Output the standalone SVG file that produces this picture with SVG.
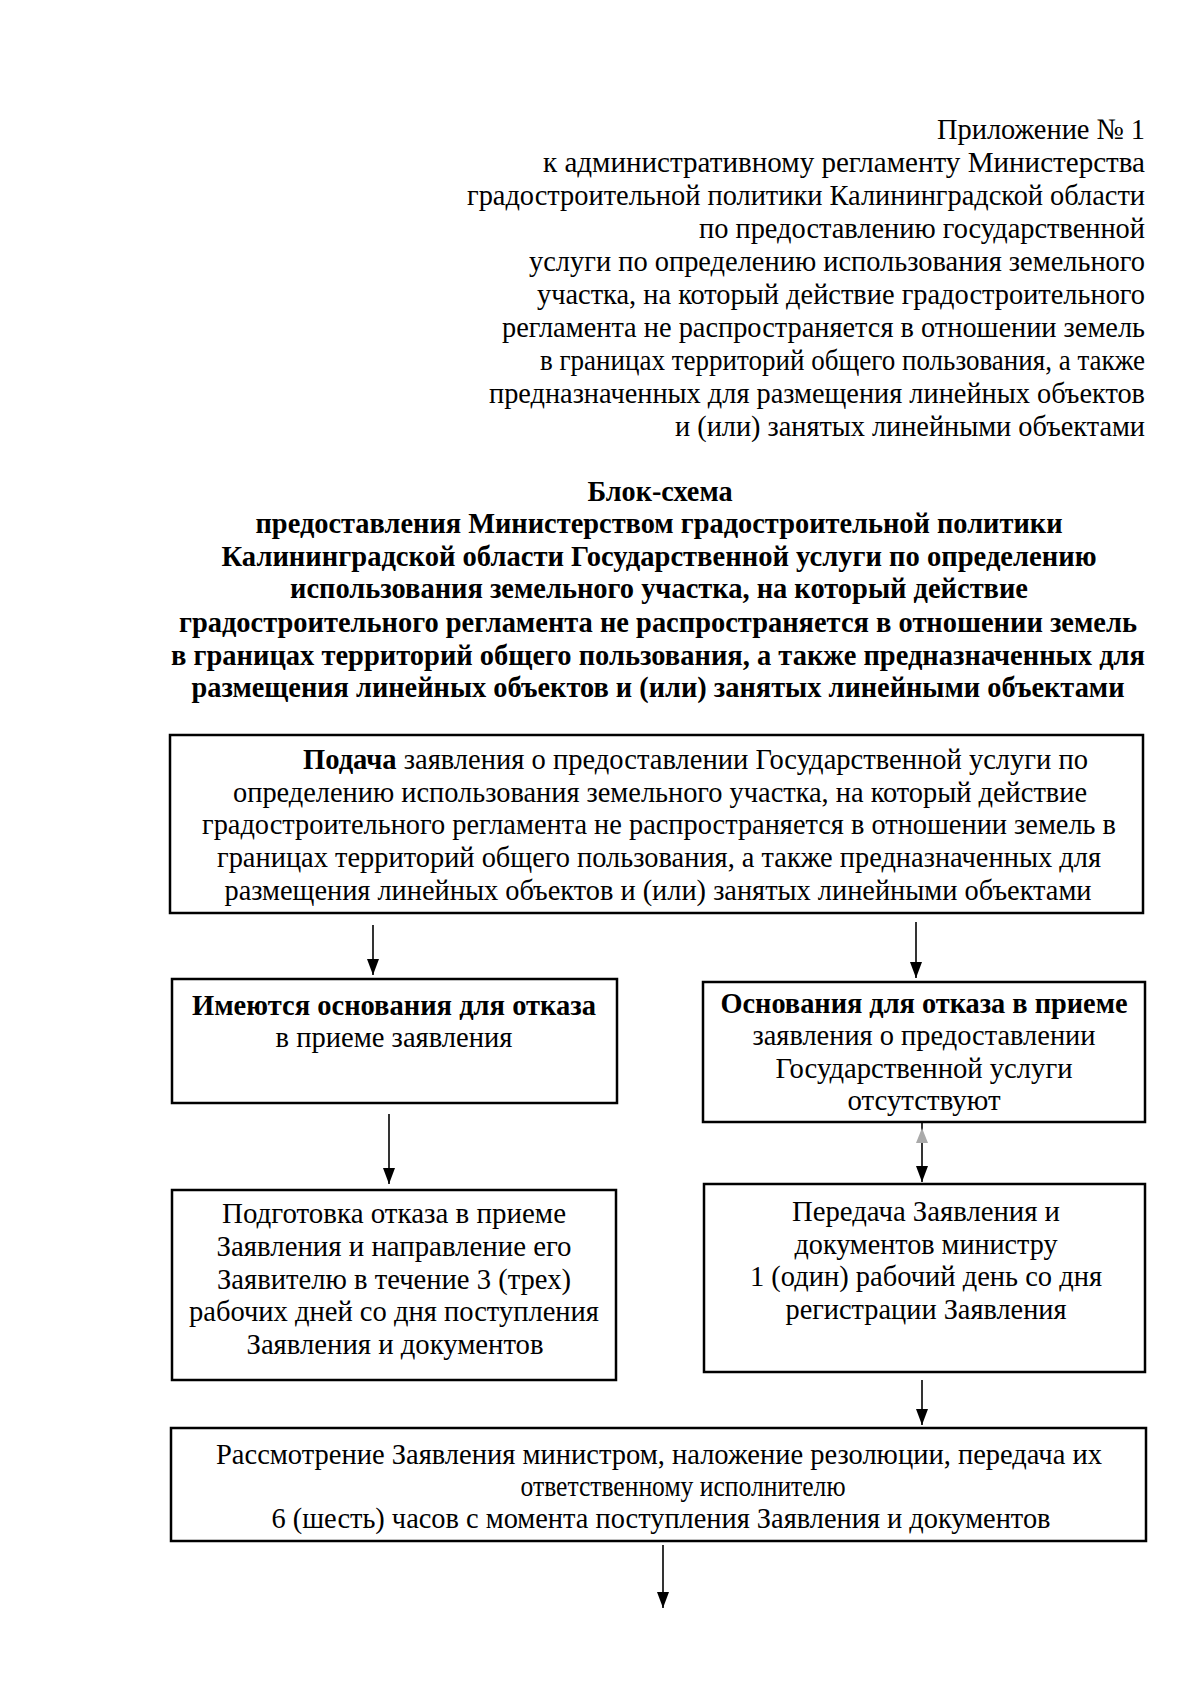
<svg xmlns="http://www.w3.org/2000/svg" width="1200" height="1697" viewBox="0 0 1200 1697">
<defs>
<style>
text{font-family:"Liberation Serif","Times New Roman",serif;font-size:30px;fill:#000}
.b{font-weight:bold}
.t{font-size:29px}
.r{text-anchor:end}
.m{text-anchor:middle}
.box{fill:#fff;stroke:#000;stroke-width:2.5}
.con{stroke:#000;stroke-width:1.6;fill:none}
</style>
<marker id="ah" viewBox="0 0 16 12" refX="16" refY="6" markerWidth="16" markerHeight="12" markerUnits="userSpaceOnUse" orient="auto">
<path d="M0,0 L16,6 L0,12 z" fill="#000"/>
</marker>
</defs>
<rect width="1200" height="1697" fill="#fff"/>
<g id="header">
<text class="r" x="1145" y="139" textLength="208" lengthAdjust="spacingAndGlyphs">Приложение № 1</text>
<text class="r" x="1145" y="172" textLength="602" lengthAdjust="spacingAndGlyphs">к административному регламенту Министерства</text>
<text class="r" x="1145" y="205" textLength="678" lengthAdjust="spacingAndGlyphs">градостроительной политики Калининградской области</text>
<text class="r" x="1145" y="238" textLength="446" lengthAdjust="spacingAndGlyphs">по предоставлению государственной</text>
<text class="r" x="1145" y="271" textLength="616" lengthAdjust="spacingAndGlyphs">услуги по определению использования земельного</text>
<text class="r" x="1145" y="304" textLength="608" lengthAdjust="spacingAndGlyphs">участка, на который действие градостроительного</text>
<text class="r" x="1145" y="337" textLength="643" lengthAdjust="spacingAndGlyphs">регламента не распространяется в отношении земель</text>
<text class="r" x="1145" y="370" textLength="605" lengthAdjust="spacingAndGlyphs">в границах территорий общего пользования, а также</text>
<text class="r" x="1145" y="403" textLength="656" lengthAdjust="spacingAndGlyphs">предназначенных для размещения линейных объектов</text>
<text class="r" x="1145" y="436" textLength="470" lengthAdjust="spacingAndGlyphs">и (или) занятых линейными объектами</text>
</g>
<g id="title">
<text class="m b t" x="660" y="501" textLength="145" lengthAdjust="spacingAndGlyphs">Блок-схема</text>
<text class="m b t" x="659" y="533" textLength="807" lengthAdjust="spacingAndGlyphs">предоставления Министерством градостроительной политики</text>
<text class="m b t" x="659" y="566" textLength="875" lengthAdjust="spacingAndGlyphs">Калининградской области Государственной услуги по определению</text>
<text class="m b t" x="659" y="598" textLength="738" lengthAdjust="spacingAndGlyphs">использования земельного участка, на который действие</text>
<text class="m b t" x="658" y="632" textLength="958" lengthAdjust="spacingAndGlyphs">градостроительного регламента не распространяется в отношении земель</text>
<text class="m b t" x="658" y="665" textLength="974" lengthAdjust="spacingAndGlyphs">в границах территорий общего пользования, а также предназначенных для</text>
<text class="m b t" x="658" y="697" textLength="933" lengthAdjust="spacingAndGlyphs">размещения линейных объектов и (или) занятых линейными объектами</text>
</g>
<g id="connectors">
<line class="con" x1="373" y1="925" x2="373" y2="975" marker-end="url(#ah)"/>
<line class="con" x1="916" y1="922" x2="916" y2="978" marker-end="url(#ah)"/>
<line class="con" x1="389" y1="1114" x2="389" y2="1184" marker-end="url(#ah)"/>
<line class="con" x1="922" y1="1123" x2="922" y2="1182" marker-end="url(#ah)"/>
<polygon points="922,1128 916,1143 928,1143" fill="#aaa"/>
<line class="con" x1="922" y1="1380" x2="922" y2="1425" marker-end="url(#ah)"/>
<line class="con" x1="663" y1="1545" x2="663" y2="1608" marker-end="url(#ah)"/>
</g>
<g id="n1">
<rect class="box" x="170" y="735" width="973" height="178"/>
<text x="303" y="769" textLength="785" lengthAdjust="spacingAndGlyphs"><tspan class="b">Подача</tspan> заявления о предоставлении Государственной услуги по</text>
<text class="m" x="660" y="802" textLength="854" lengthAdjust="spacingAndGlyphs">определению использования земельного участка, на который действие</text>
<text class="m" x="659" y="834" textLength="914" lengthAdjust="spacingAndGlyphs">градостроительного регламента не распространяется в отношении земель в</text>
<text class="m" x="659" y="867" textLength="884" lengthAdjust="spacingAndGlyphs">границах территорий общего пользования, а также предназначенных для</text>
<text class="m" x="658" y="900" textLength="867" lengthAdjust="spacingAndGlyphs">размещения линейных объектов и (или) занятых линейными объектами</text>
</g>
<g id="n2">
<rect class="box" x="172" y="979" width="445" height="124"/>
<text class="m b" x="394" y="1015" textLength="404" lengthAdjust="spacingAndGlyphs">Имеются основания для отказа</text>
<text class="m" x="394" y="1047" textLength="237" lengthAdjust="spacingAndGlyphs">в приеме заявления</text>
</g>
<g id="n3">
<rect class="box" x="703" y="982" width="442" height="140"/>
<text class="m b" x="924" y="1013" textLength="407" lengthAdjust="spacingAndGlyphs">Основания для отказа в приеме</text>
<text class="m" x="924" y="1045" textLength="343" lengthAdjust="spacingAndGlyphs">заявления о предоставлении</text>
<text class="m" x="924" y="1078" textLength="297" lengthAdjust="spacingAndGlyphs">Государственной услуги</text>
<text class="m" x="924" y="1110" textLength="153" lengthAdjust="spacingAndGlyphs">отсутствуют</text>
</g>
<g id="n4">
<rect class="box" x="172" y="1190" width="444" height="190"/>
<text class="m" x="394" y="1223" textLength="344" lengthAdjust="spacingAndGlyphs">Подготовка отказа в приеме</text>
<text class="m" x="394" y="1256" textLength="355" lengthAdjust="spacingAndGlyphs">Заявления и направление его</text>
<text class="m" x="394" y="1289" textLength="354" lengthAdjust="spacingAndGlyphs">Заявителю в течение 3 (трех)</text>
<text class="m" x="394" y="1321" textLength="410" lengthAdjust="spacingAndGlyphs">рабочих дней со дня поступления</text>
<text class="m" x="395" y="1354" textLength="297" lengthAdjust="spacingAndGlyphs">Заявления и документов</text>
</g>
<g id="n5">
<rect class="box" x="704" y="1184" width="441" height="188"/>
<text class="m" x="926" y="1221" textLength="268" lengthAdjust="spacingAndGlyphs">Передача Заявления и</text>
<text class="m" x="926" y="1254" textLength="263" lengthAdjust="spacingAndGlyphs">документов министру</text>
<text class="m" x="926" y="1286" textLength="352" lengthAdjust="spacingAndGlyphs">1 (один) рабочий день со дня</text>
<text class="m" x="926" y="1319" textLength="281" lengthAdjust="spacingAndGlyphs">регистрации Заявления</text>
</g>
<g id="n6">
<rect class="box" x="171" y="1428" width="975" height="113"/>
<text class="m" x="659" y="1464" textLength="886" lengthAdjust="spacingAndGlyphs">Рассмотрение Заявления министром, наложение резолюции, передача их</text>
<text class="m" x="683" y="1496" textLength="325" lengthAdjust="spacingAndGlyphs">ответственному исполнителю</text>
<text class="m" x="661" y="1528" textLength="779" lengthAdjust="spacingAndGlyphs">6 (шесть) часов с момента поступления Заявления и документов</text>
</g>
</svg>
